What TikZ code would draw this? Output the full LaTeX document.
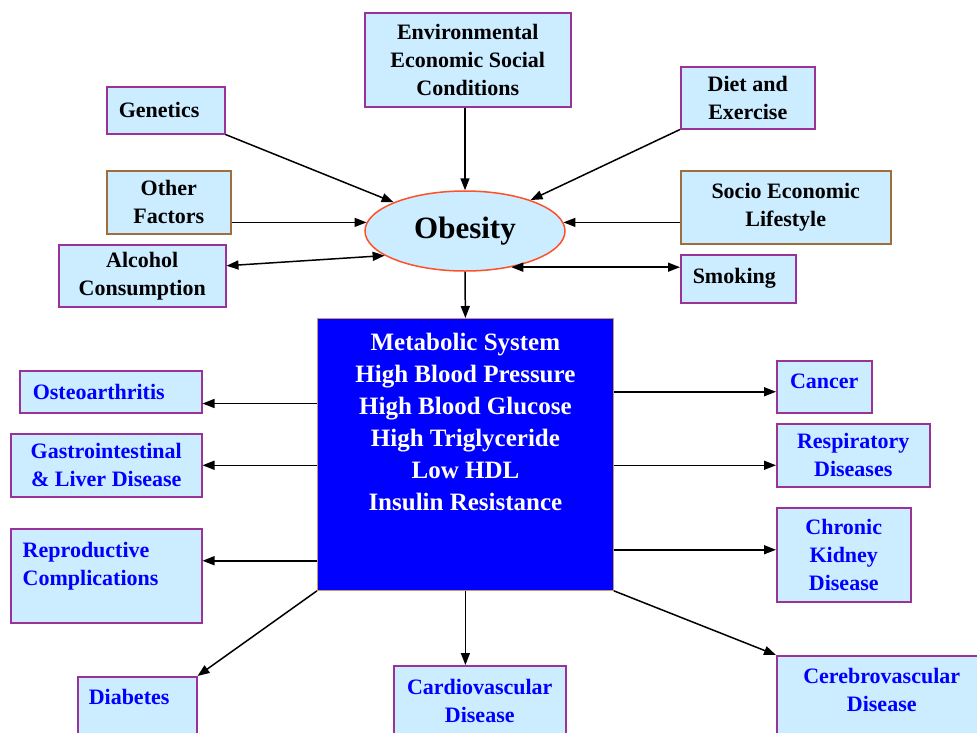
\documentclass[tikz,border=0pt]{standalone}
\usepackage{fontspec}
\setmainfont{Liberation Serif}
\usetikzlibrary{arrows.meta, shapes.geometric}

\definecolor{boxfill}{RGB}{204,236,255}
\definecolor{boxpurple}{RGB}{153,51,153}
\definecolor{boxbrown}{RGB}{160,110,60}
\definecolor{ovalred}{RGB}{255,80,40}
\definecolor{metablue}{RGB}{0,0,255}
\definecolor{metaedge}{RGB}{204,153,102}

\begin{document}
\begin{tikzpicture}[
    x=1pt, y=-1pt,
    >={Triangle[length=12pt, width=9pt]}, % Arrow style
    box/.style={draw=boxpurple, line width=1.5pt, fill=boxfill, anchor=north west, inner sep=0pt, align=center, font=\bfseries\fontsize{22}{28}\selectfont},
    brownbox/.style={box, draw=boxbrown},
    illbox/.style={box, text=metablue},
    link/.style={->, line width=1.5pt}
]
\useasboundingbox (0,0) rectangle (977,732);
\clip (0,0) rectangle (977,732);

% Nodes
\node[box, minimum width=206, minimum height=94] (ENV) at (364,12) {Environmental\\Economic Social\\Conditions};
\node[box, minimum height=47, text width=94, align=left, inner xsep=12pt] (GEN) at (106,86) {Genetics};
\node[box, minimum width=134, minimum height=62] (DIET) at (680,66) {Diet and\\Exercise};
\node[brownbox, minimum width=124, minimum height=63] (OTHER) at (106,170) {Other\\Factors};
\node[brownbox, minimum width=210, minimum height=73] (SOCIO) at (680,170) {Socio Economic\\Lifestyle};
\node[box, minimum width=167, minimum height=62] (ALC) at (58,244) {Alcohol\\Consumption};
\node[box, minimum height=48, text width=91, align=left, inner xsep=12pt] (SMOK) at (680,254) {Smoking};
\node[ellipse, draw=ovalred, line width=1.5pt, fill=boxfill, minimum width=200, minimum height=80, inner sep=0pt, font=\bfseries\fontsize{31}{36}\selectfont] (OB) at (465,231) {Obesity};
\node[draw=metaedge, line width=0.8pt, fill=metablue, text=white, anchor=north west, minimum width=296, inner sep=0pt, text height=192pt, text depth=80pt, align=center, font=\bfseries\fontsize{25}{32}\selectfont] (MS) at (317,318) {Metabolic System\\High Blood Pressure\\High Blood Glucose\\High Triglyceride\\Low HDL\\Insulin Resistance};

\node[illbox, minimum height=42, text width=156, align=left, inner xsep=13pt] (OST) at (19,370) {Osteoarthritis};
\node[illbox, minimum width=191, minimum height=63] (GAS) at (10,433) {Gastrointestinal\\\& Liver Disease};
\node[illbox, text width=167, align=left, inner xsep=12pt, text height=29pt, text depth=65pt] (REP) at (10,528) {Reproductive\\Complications};
\node[illbox, text width=97, align=left, inner xsep=11pt, text height=28pt, text depth=50pt] (DIA) at (77,676) {Diabetes};
\node[illbox, minimum width=172, text height=57pt, text depth=28pt] (CAR) at (393,665) {Cardiovascular\\Disease};

\node[illbox, minimum width=95, text height=28pt, text depth=24pt] (CAN) at (776,360) {Cancer};
\node[illbox, minimum width=153, minimum height=63] (RES) at (776,423) {Respiratory\\Diseases};
\node[illbox, minimum width=134, minimum height=94] (CKD) at (776,507) {Chronic\\Kidney\\Disease};
\node[illbox, minimum width=210, text height=56pt, text depth=39pt] (CER) at (776,655) {Cerebrovascular\\Disease};

% Arrows into obesity
\draw[link] (GEN.south east) -- (OB);
\draw[link] (OB.north |- ENV.south) -- (OB.north);
\draw[link] (DIET.south west) -- (OB);
\draw[link] (OTHER.east |- OB.175) -- (OB.175);
\draw[link] (SOCIO.west |- OB.5) -- (OB.5);
\draw[link, <->] ([yshift=10pt]ALC.east) -- (OB.197);
\draw[link, <->] (OB.-38) -- (SMOK.west |- OB.-38);
\draw[link] (OB.south) -- (MS.north);

% Arrows out of the metabolic box
\draw[link] ([yshift=10pt]MS.west |- OST.south) -- ([yshift=10pt]OST.south east);
\draw[link] (MS.west |- GAS.east) -- (GAS.east);
\draw[link] ([yshift=15pt]MS.west |- REP.east) -- ([yshift=15pt]REP.east);
\draw[link] (MS.south west) -- (DIA.north east);
\draw[link] (MS.south) -- (MS.south |- CAR.north);
\draw[link] ([yshift=-5pt]MS.east |- CAN.west) -- ([yshift=-5pt]CAN.west);
\draw[link] ([yshift=-10pt]MS.east |- RES.west) -- ([yshift=-10pt]RES.west);
\draw[link] ([yshift=5pt]MS.east |- CKD.west) -- ([yshift=5pt]CKD.west);
\draw[link] (MS.south east) -- (CER.north west);

\end{tikzpicture}
\end{document}
